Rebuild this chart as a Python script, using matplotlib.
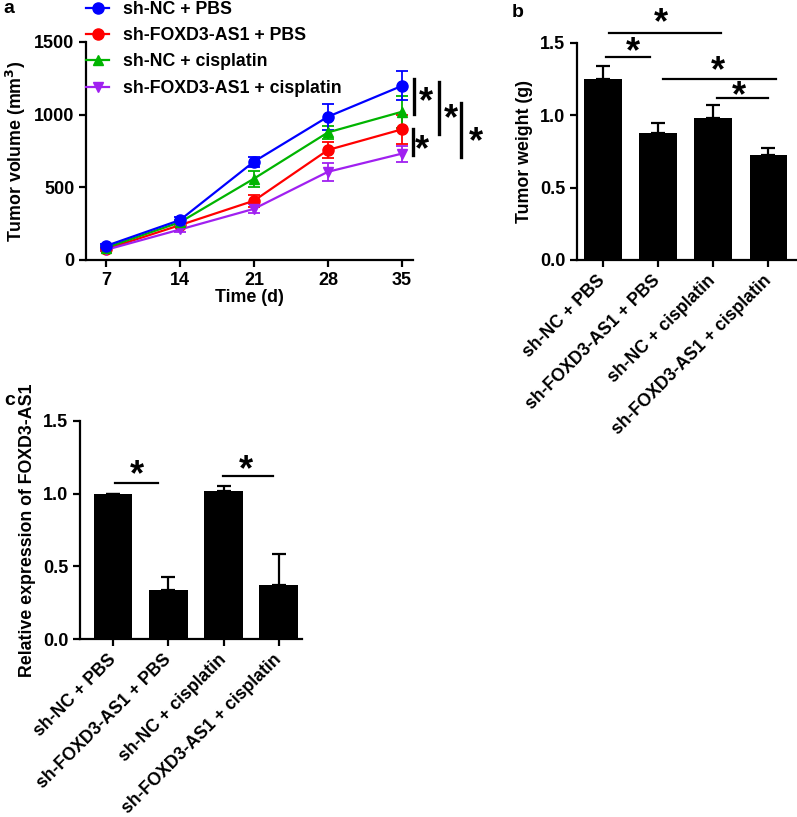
import numpy as np
import matplotlib
matplotlib.use("Agg")
import matplotlib.pyplot as plt
from matplotlib.lines import Line2D

plt.rcParams['font.family'] = ['Liberation Sans', 'DejaVu Sans']
plt.rcParams['font.weight'] = 'bold'
plt.rcParams['axes.labelweight'] = 'bold'
plt.rcParams['axes.linewidth'] = 1.6
plt.rcParams['xtick.major.width'] = 1.6
plt.rcParams['ytick.major.width'] = 1.6
plt.rcParams['xtick.major.size'] = 5
plt.rcParams['ytick.major.size'] = 5

# panel a data
days = [7, 14, 21, 28, 35]
groups = ['sh-NC + PBS', 'sh-FOXD3-AS1 + PBS', 'sh-NC + cisplatin', 'sh-FOXD3-AS1 + cisplatin']
vol_nc_pbs = [97, 275, 677, 986, 1198]
vol_nc_pbs_err = [15, 20, 35, 90, 100]
vol_fx_pbs = [75, 240, 408, 757, 899]
vol_fx_pbs_err = [10, 15, 40, 55, 100]
vol_nc_cis = [85, 260, 560, 878, 1020]
vol_nc_cis_err = [10, 15, 55, 45, 110]
vol_fx_cis = [70, 210, 352, 607, 732]
vol_fx_cis_err = [8, 15, 30, 60, 55]

# panel b data
weight = [1.25, 0.875, 0.98, 0.725]
weight_err = [0.09, 0.07, 0.09, 0.05]

# panel c data
expr = [1.0, 0.34, 1.02, 0.375]
expr_err = [0.0, 0.09, 0.035, 0.21]

colors = ['#0000FF', '#FF0000', '#00B400', '#A020F0']
markers = ['o', 'o', '^', 'v']

W, H = 797, 817
fig = plt.figure(figsize=(W / 100, H / 100), dpi=100)


def axes_px(l, r, t, b):
    return fig.add_axes([l / W, 1 - b / H, (r - l) / W, (b - t) / H])


def star(ax, x, y, size=26):
    ax.text(x, y, '*', ha='center', va='center', fontsize=size,
            fontweight='bold', clip_on=False)


def bar_panel(ax, vals, err, width):
    xb = np.arange(len(groups))
    ax.bar(xb, vals, width=width, color='black')
    ax.errorbar(xb, vals, yerr=[np.zeros(len(vals)), err], fmt='none', ecolor='black',
                capsize=5, elinewidth=1.6, capthick=1.6)
    ax.set_ylim(0, 1.5)
    ax.set_yticks([0.0, 0.5, 1.0, 1.5])
    ax.set_yticklabels(['0.0', '0.5', '1.0', '1.5'])
    ax.set_xticks(xb)
    ax.set_xticklabels(groups, rotation=45, ha='right', va='center', rotation_mode='anchor')
    ax.spines['top'].set_visible(False)
    ax.spines['right'].set_visible(False)
    ax.tick_params(axis='y', labelsize=13)
    ax.tick_params(axis='x', labelsize=12.7, pad=8)


# ---- panel a
ax1 = axes_px(86, 413, 42, 260)
series = [vol_nc_pbs, vol_fx_pbs, vol_nc_cis, vol_fx_cis]
errs = [vol_nc_pbs_err, vol_fx_pbs_err, vol_nc_cis_err, vol_fx_cis_err]
for i in [1, 3, 2, 0]:
    ax1.errorbar(days, series[i], yerr=errs[i], color=colors[i], marker=markers[i],
                 ms=8 if markers[i] == 'o' else 7, lw=1.6, capsize=4, elinewidth=1.3,
                 capthick=1.3, clip_on=False)
ax1.set_xlim(5.1, 36.05)
ax1.set_ylim(0, 1500)
ax1.set_xticks(days)
ax1.set_yticks([0, 500, 1000, 1500])
ax1.spines['top'].set_visible(False)
ax1.spines['right'].set_visible(False)
ax1.tick_params(labelsize=13)
ax1.set_xlabel('Time (d)', fontsize=12.8, labelpad=0)
ax1.set_ylabel('Tumor volume (mm$^\\mathbf{3}$)', fontsize=12.8, labelpad=4)

# significance brackets right of the curves
for x, y0, y1 in [(36.14, 1005, 1245), (38.5, 867, 1225), (40.6, 709, 1080), (36.05, 722, 901)]:
    ax1.plot([x, x], [y0, y1], color='black', lw=2.4, clip_on=False)
for x, y in [(37.3, 1080), (39.6, 965), (42.0, 807), (36.9, 750)]:
    star(ax1, x, y)

handles = [Line2D([], [], color=c, marker=m, lw=1.6, ms=8 if m == 'o' else 7)
           for c, m in zip(colors, markers)]
ax1.legend(handles, groups, loc='upper left',
           bbox_to_anchor=(86 / W, 1 - 1 / H), bbox_transform=fig.transFigure,
           frameon=False, fontsize=12.8, handlelength=1.3, handletextpad=0.8,
           labelspacing=0.52, borderpad=0, borderaxespad=0)

# ---- panel b
ax2 = axes_px(577, 796, 42.7, 260)
bar_panel(ax2, weight, weight_err, 0.68)
ax2.set_xlim(-0.47, 3.5)
ax2.set_ylabel('Tumor weight (g)', fontsize=12.8, labelpad=5)
for x0, x1, y in [(0.055, 0.855, 1.403), (0.11, 2.14, 1.569), (1.09, 3.145, 1.249), (2.07, 3.0, 1.12)]:
    ax2.plot([x0, x1], [y, y], color='black', lw=1.6, clip_on=False)
for x, y in [(0.545, 1.43), (1.05, 1.63), (2.09, 1.30), (2.47, 1.13)]:
    star(ax2, x, y)

# ---- panel c
ax3 = axes_px(80, 302, 420.7, 639.3)
bar_panel(ax3, expr, expr_err, 0.7)
ax3.set_xlim(-0.6, 3.42)
ax3.set_ylabel('Relative expression of FOXD3-AS1', fontsize=12.8, labelpad=5)
for x0, x1, y in [(0.037, 0.82, 1.075), (1.99, 2.9, 1.12)]:
    ax3.plot([x0, x1], [y, y], color='black', lw=1.6, clip_on=False)
for x, y in [(0.44, 1.12), (2.41, 1.16)]:
    star(ax3, x, y)

# panel letters
fig.text(3 / W, 1 - 13 / H, 'a', fontsize=14, fontweight='bold')
fig.text(512 / W, 1 - 17 / H, 'b', fontsize=14, fontweight='bold')
fig.text(4 / W, 1 - 405 / H, 'c', fontsize=14, fontweight='bold')

fig.savefig('out.png', dpi=100)
